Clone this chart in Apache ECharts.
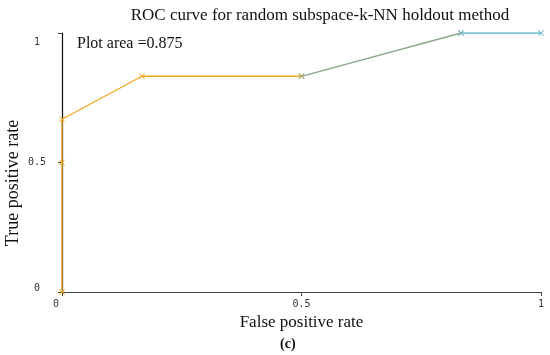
<!DOCTYPE html>
<html><head><meta charset="utf-8">
<script src="https://cdn.jsdelivr.net/npm/echarts@6/dist/echarts.min.js"></script>
<style>html,body{margin:0;padding:0;background:#fff}#c{width:550px;height:355px}</style>
</head><body><div id="c"></div>
<script>
const fprOrange = [0, 0, 0, 0.167, 0.5];
const tprOrange = [0, 0.5, 0.667, 0.833, 0.833];
const fprGreen = [0.5, 0.833];
const tprGreen = [0.833, 1];
const fprBlue = [0.833, 1];
const tprBlue = [1, 1];
const xTicks = [0, 0.5, 1];
const yTicks = [0, 0.5, 1];
const titleText = 'ROC curve for random subspace-k-NN holdout method';
const areaText = 'Plot area =0.875';
const xName = 'False positive rate';
const yName = 'True positive rate';

const zip = (a, b) => a.map((v, i) => [v, b[i]]);
const xSym = 'path://M0,1L1,0L5,4L9,0L10,1L6,5L10,9L9,10L5,6L1,10L0,9L4,5Z';
const serif = 'Liberation Serif';
const mono = 'DejaVu Sans Mono';
const lblBase = { fontFamily: mono, fontSize: 10, color: '#333' };

function seg(data, color) {
  return {
    type: 'line', data: data, symbol: xSym, symbolSize: 6, showSymbol: true,
    lineStyle: { color: color, width: 1.3 }, itemStyle: { color: color },
    animation: false, z: 3
  };
}

const chart = echarts.init(document.getElementById('c'), null, { renderer: 'canvas' });
chart.setOption({
  backgroundColor: '#fff',
  animation: false,
  grid: { left: 62, right: 9, top: 33, bottom: 63, containLabel: false, outerBoundsMode: 'none' },
  title: {
    text: titleText, left: 315, top: 2, textAlign: 'center',
    textStyle: { fontFamily: serif, fontSize: 17, fontWeight: 'normal', color: '#111' }
  },
  graphic: [
    { type: 'text', left: 77, top: 36, style: { text: areaText, font: '16px "Liberation Serif"', fill: '#111' } },
    { type: 'text', left: 280, top: 337, style: { text: '(c)', font: 'bold 14px "Liberation Serif"', fill: '#111' } },
    { type: 'text', x: 13, y: 183, rotation: Math.PI / 2,
      style: { text: yName, font: '18px "Liberation Serif"', fill: '#111', align: 'center', verticalAlign: 'middle' } }
  ],
  xAxis: {
    type: 'value', min: 0, max: 1, interval: 0.5,
    name: xName, nameLocation: 'middle', nameGap: 21,
    nameTextStyle: { fontFamily: serif, fontSize: 17, color: '#111' },
    axisLine: { show: true, lineStyle: { color: '#444', width: 1.2 } },
    axisTick: { show: true, length: 4, lineStyle: { color: '#444' } },
    axisLabel: Object.assign({ margin: 7,
      formatter: v => !xTicks.includes(v) ? '' : (v === 0 ? '{l|0}' : String(v)),
      rich: { l: Object.assign({ padding: [0, 12, 0, 0] }, lblBase) } }, lblBase),
    splitLine: { show: false }
  },
  yAxis: {
    type: 'value', min: 0, max: 1, interval: 0.5,
    axisLine: { show: true, lineStyle: { color: '#111', width: 1.2 } },
    axisTick: { show: true, length: 4, lineStyle: { color: '#444' } },
    axisLabel: Object.assign({ margin: 25, align: 'center',
      formatter: v => !yTicks.includes(v) ? '' : (v === 1 ? '{t|1}' : v === 0 ? '{b|0}' : String(v)),
      rich: { t: Object.assign({ padding: [18, 0, 0, 0] }, lblBase),
              b: Object.assign({ padding: [0, 0, 8, 0] }, lblBase) } }, lblBase),
    splitLine: { show: false }
  },
  series: [
    seg(zip(fprOrange, tprOrange), '#f5a623'),
    seg(zip(fprGreen, tprGreen), '#8ba68a'),
    seg(zip(fprBlue, tprBlue), '#5aaecb')
  ]
});
</script></body></html>
